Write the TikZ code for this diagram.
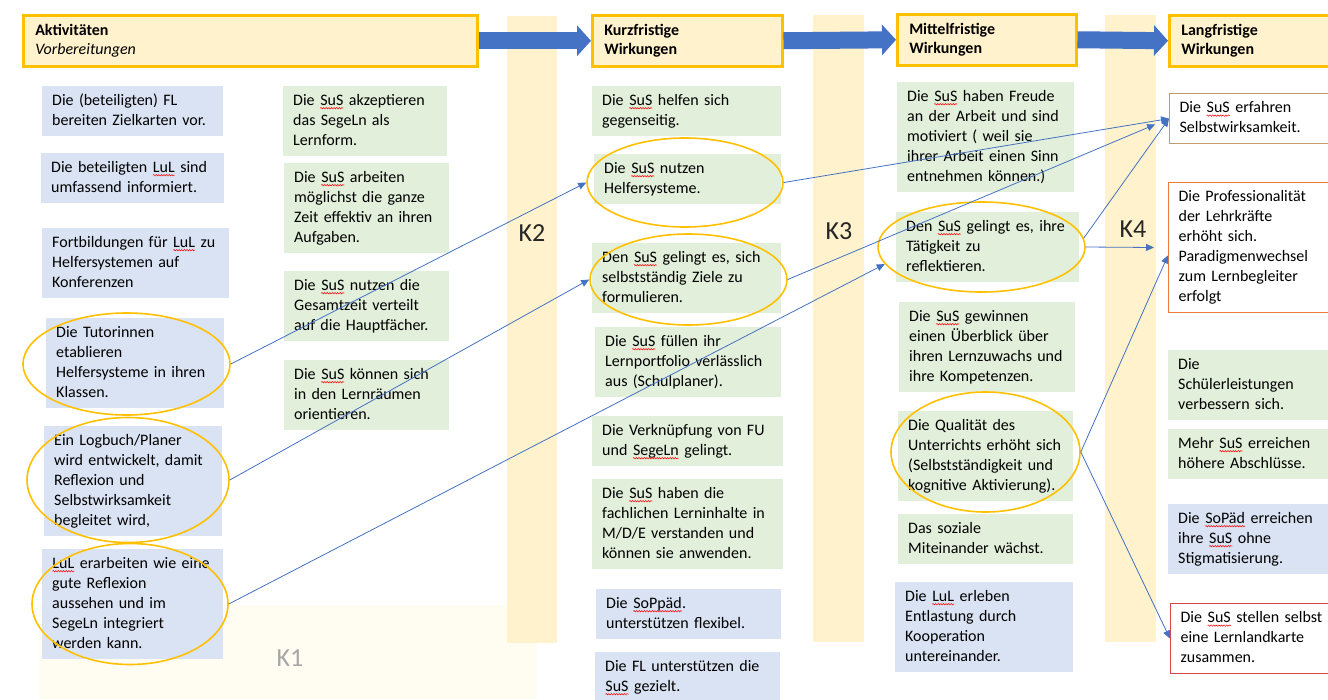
\documentclass[tikz,border=0pt]{standalone}
\usepackage{fontspec}
\setmainfont{Carlito}
\usetikzlibrary{arrows.meta,shapes.geometric,decorations.pathmorphing}

\definecolor{headfill}{HTML}{FFF2CC}
\definecolor{headline}{HTML}{FFC000}
\definecolor{bluebox}{HTML}{DAE3F3}
\definecolor{greenbox}{HTML}{E2EFDA}
\definecolor{linkblue}{HTML}{4472C4}
\definecolor{faintarea}{HTML}{FFFCF2}
\definecolor{brownline}{HTML}{C59A6D}
\definecolor{orangeline}{HTML}{ED7D31}
\definecolor{redline}{HTML}{D9464A}

% red spell check line
\newcommand\wv[1]{\tikz[baseline=(w.base), x=1pt, y=1pt]{\node[inner sep=0pt, outer sep=0pt] (w) {#1};
    \draw[red, line width=0.5pt, decorate, decoration={snake, amplitude=0.7pt, segment length=2.6pt}]
        ([yshift=-3pt]w.base west) -- ([yshift=-3pt]w.base east);}}

\begin{document}
\begin{tikzpicture}[x=1pt, y=-1pt,
    box/.style={anchor=north west, inner xsep=10pt, inner ysep=5pt, align=left,
        font=\fontsize{16}{20}\selectfont,
        execute at begin node=\strut, execute at end node=\strut},
    bbox/.style={box, fill=bluebox, text width=#1},
    gbox/.style={box, fill=greenbox, text width=#1},
    wbox/.style={box, fill=white, draw=#1, line width=1.2pt, text width=155pt},
    head/.style={anchor=north west, draw=headline, fill=headfill, line width=2.5pt,
        inner xsep=11pt, minimum height=51pt, align=left,
        font=\fontsize{16}{18.5}\selectfont},
    ring/.style={ellipse, draw=headline, line width=1.6pt, inner sep=0pt},
    klabel/.style={font=\fontsize{26}{30}\selectfont, text=black!85},
    link/.style={draw=linkblue, line width=0.8pt, -{Triangle[length=8pt,width=7pt]}},
    bigarrow/.style={draw=linkblue, line width=17pt, -{Triangle[length=14pt,width=30pt]}}]

    \fill[white] (0,0) rectangle (1328,699);
    \useasboundingbox (0,0) rectangle (1328,699);

    % K columns
    \fill[faintarea] (39,605) rectangle (537,699);
    \fill[headfill] (507,16) rectangle (557,643);
    \fill[headfill] (813,15) rectangle (864,642);
    \fill[headfill] (1105,15) rectangle (1156,642);
    \node[klabel, text=black!35] (kA) at (290,658) {K1};
    \node[klabel] (kB) at (532,233) {K2};
    \node[klabel] (kC) at (839,231) {K3};
    \node[klabel] (kD) at (1133,229) {K4};

    % headers
    \node[head, minimum width=454pt, text width=430pt] (h1) at (22,14)
        {\textbf{Aktivitäten}\\\textit{Vorbereitungen}};
    \node[head, minimum width=190pt, text width=166pt] (h2) at (591,14)
        {\textbf{Kurzfristige}\\\textbf{Wirkungen}};
    \node[head, minimum width=179pt, text width=155pt] (h3) at (896,13)
        {\textbf{Mittelfristige}\\\textbf{Wirkungen}};
    \node[head, minimum width=190pt, text width=166pt] (h4) at (1168,14)
        {\textbf{Langfristige}\\\textbf{Wirkungen}};

    \draw[bigarrow] (h1.east) -- (h2.west);
    \draw[bigarrow] (h2.east) -- (h3.west);
    \draw[bigarrow] (h3.east) -- (h4.west);

    % activities
    \node[bbox=161pt] (a1) at (42,86) {Die (beteiligten) FL\\bereiten Zielkarten vor.};
    \node[bbox=163pt] (a2) at (41,153) {Die beteiligten \wv{LuL} sind\\umfassend informiert.};
    \node[bbox=167pt] (a3) at (42,228) {Fortbildungen für \wv{LuL} zu\\Helfersystemen auf\\Konferenzen};
    \node[bbox=158pt] (a4) at (46,318) {Die Tutorinnen\\etablieren\\Helfersysteme in ihren\\Klassen.};
    \node[bbox=158pt] (a5) at (44,426) {Ein Logbuch/Planer\\wird entwickelt, damit\\Reflexion und\\Selbstwirksamkeit\\begleitet wird,};
    \node[bbox=161pt] (a6) at (42,549) {\wv{LuL} erarbeiten wie eine\\gute Reflexion\\aussehen und im\\SegeLn integriert\\werden kann.};

    \node[gbox=144pt] (b1) at (283,86) {Die \wv{SuS} akzeptieren\\das SegeLn als\\Lernform.};
    \node[gbox=145pt] (b2) at (284,163) {Die \wv{SuS} arbeiten\\möglichst die ganze\\Zeit effektiv an ihren\\Aufgaben.};
    \node[gbox=145pt] (b3) at (284,271) {Die \wv{SuS} nutzen die\\Gesamtzeit verteilt\\auf die Hauptfächer.};
    \node[gbox=145pt] (b4) at (284,360) {Die \wv{SuS} können sich\\in den Lernräumen\\orientieren.};

    % short term
    \node[gbox=169pt] (k1) at (592,86) {Die \wv{SuS} helfen sich\\gegenseitig.};
    \node[gbox=167pt] (k2) at (594,154) {Die \wv{SuS} nutzen\\Helfersysteme.};
    \node[gbox=169pt] (k3) at (592,243) {Den \wv{SuS} gelingt es, sich\\selbstständig Ziele zu\\formulieren.};
    \node[gbox=166pt] (k4) at (595,327) {Die \wv{SuS} füllen ihr\\Lernportfolio verlässlich\\aus (Schulplaner).};
    \node[gbox=171pt] (k5) at (592,416) {Die Verknüpfung von FU\\und \wv{SegeLn} gelingt.};
    \node[gbox=171pt] (k6) at (592,479) {Die \wv{SuS} haben die\\fachlichen Lerninhalte in\\M/D/E verstanden und\\können sie anwenden.};
    \node[bbox=165pt] (k7) at (596,589) {Die \wv{SoPpäd}.\\unterstützen flexibel.};
    \node[bbox=165pt] (k8) at (595,652) {Die FL unterstützen die\\\wv{SuS} gezielt.};

    % middle term
    \node[gbox=157pt] (m1) at (897,82) {Die \wv{SuS} haben Freude\\an der Arbeit und sind\\motiviert ( weil sie\\ihrer Arbeit einen Sinn\\entnehmen können.)};
    \node[gbox=163pt] (m2) at (896,212) {Den \wv{SuS} gelingt es, ihre\\Tätigkeit zu\\reflektieren.};
    \node[gbox=156pt] (m3) at (899,302) {Die \wv{SuS} gewinnen\\einen Überblick über\\ihren Lernzuwachs und\\ihre Kompetenzen.};
    \node[gbox=155pt] (m4) at (898,411) {Die Qualität des\\Unterrichts erhöht sich\\(Selbstständigkeit und\\kognitive Aktivierung).};
    \node[gbox=155pt] (m5) at (898,514) {Das soziale\\Miteinander wächst.};
    \node[bbox=158pt] (m6) at (895,582) {Die \wv{LuL} erleben\\Entlastung durch\\Kooperation\\untereinander.};

    % long term
    \node[wbox=brownline] (l1) at (1169,93) {Die \wv{SuS} erfahren\\Selbstwirksamkeit.};
    \node[wbox=orangeline] (l2) at (1168,182) {Die Professionalität\\der Lehrkräfte\\erhöht sich.\\Paradigmenwechsel\\zum Lernbegleiter\\erfolgt};
    \node[gbox=160pt] (l3) at (1168,350) {Die\\Schülerleistungen\\verbessern sich.};
    \node[gbox=160pt] (l4) at (1168,429) {Mehr \wv{SuS} erreichen\\höhere Abschlüsse.};
    \node[bbox=160pt] (l5) at (1168,504) {Die \wv{SoPäd} erreichen\\ihre \wv{SuS} ohne\\Stigmatisierung.};
    \node[wbox=redline] (l6) at (1170,603) {Die \wv{SuS} stellen selbst\\eine Lernlandkarte\\zusammen.};

    % rings
    \node[ring, minimum width=207pt, minimum height=102pt] (e1) at (126.5,364) {};
    \node[ring, minimum width=202pt, minimum height=125pt] (e2) at (128,480) {};
    \node[ring, minimum width=196pt, minimum height=121pt] (e3) at (130,604) {};
    \node[ring, minimum width=196pt, minimum height=89pt] (e4) at (685,182.5) {};
    \node[ring, minimum width=197pt, minimum height=91pt] (e5) at (688.5,279.5) {};
    \node[ring, minimum width=207pt, minimum height=90pt] (e6) at (981.5,247) {};
    \node[ring, minimum width=189pt, minimum height=120pt] (e7) at (985.5,452) {};

    % links
    \draw[link] (e1.east) -- (e4.west);
    \draw[link] (e2.east) -- (e5.west);
    \draw[link] (e3.east) -- (e6.190);
    \draw[link] (e4.east) -- (l1.west);
    \draw[link, shorten >=15pt] (e5.east) -- (l1.west);
    \draw[link] (e6.5) -- (l1.west);
    \draw[link, shorten >=14pt] (e6.east) -- (l2.west);
    \draw[link] (e7.east) -- (l2.185);
    \draw[link] (e7.east) -- (l6.west);
\end{tikzpicture}
\end{document}
